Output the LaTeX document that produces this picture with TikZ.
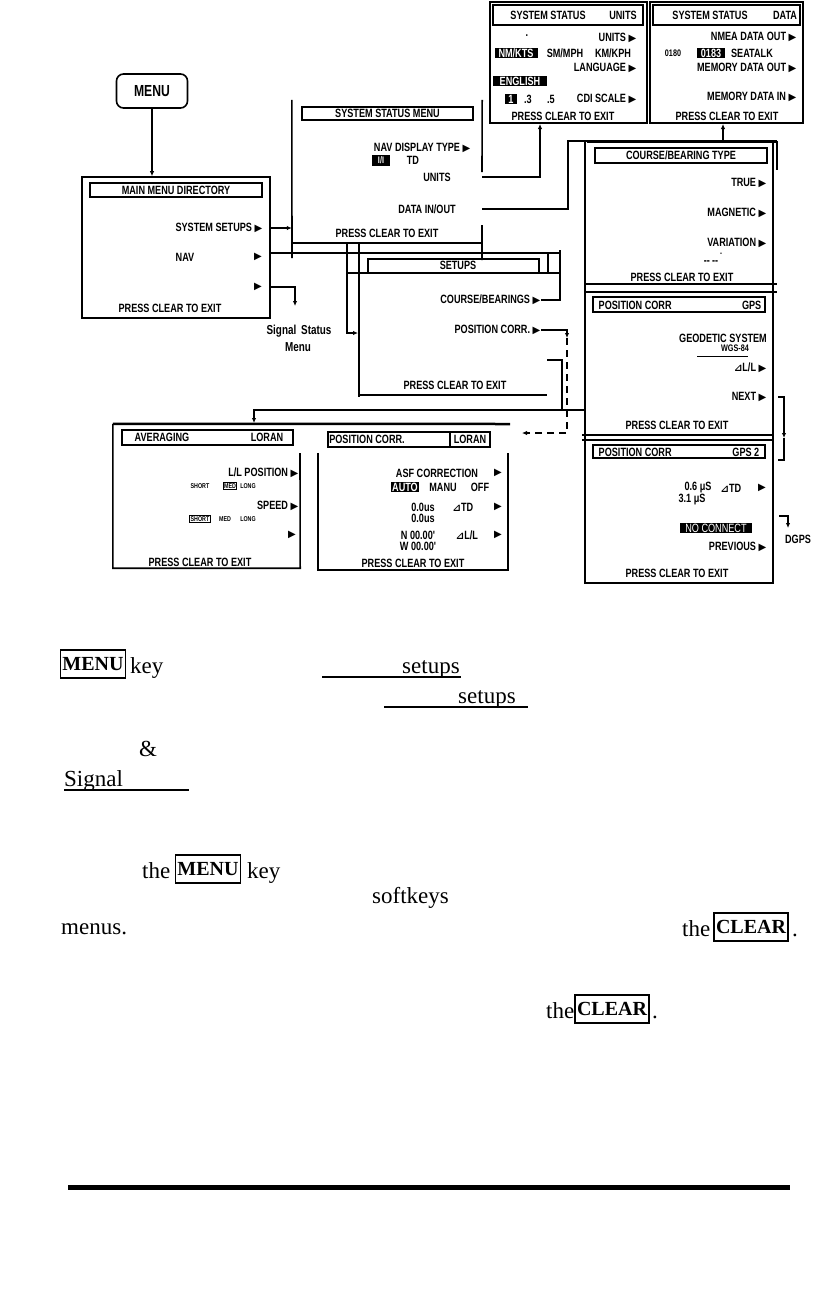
\documentclass[tikz,border=0pt]{standalone}
\usepackage{fontspec}
\setmainfont{Liberation Serif}
\newfontfamily\lcdfont{Liberation Sans}[FakeStretch=0.76]
\newfontfamily\symfont{DejaVu Sans}
\usetikzlibrary{positioning, arrows.meta, fit}
\newcommand{\tri}{{\symfont\fontsize{10}{10}\selectfont ▶}}
\newcommand{\dlt}{{\symfont\fontsize{10}{10}\selectfont ⊿}}

\begin{document}
\begin{tikzpicture}[x=1pt, y=-1pt,
  >={Latex[length=5pt, width=4.5pt]},
  scr/.style={draw, line width=1.6pt, inner sep=0pt},
  hd/.style={draw, line width=1.2pt, inner sep=0pt},
  lcd/.style={font=\lcdfont\bfseries\fontsize{12}{13}\selectfont, inner sep=0.5pt},
  lcds/.style={font=\lcdfont\bfseries\fontsize{9.5}{10}\selectfont, inner sep=0.5pt},
  lcdxs/.style={font=\lcdfont\bfseries\fontsize{7}{8}\selectfont, inner sep=0.8pt},
  inv/.style={fill=black, text=white, inner sep=1pt},
  lnk/.style={line width=1.4pt},
  key/.style={draw, line width=1.4pt, inner sep=2pt, minimum height=28pt, font=\bfseries\fontsize{20}{24}\selectfont},
  body/.style={font=\fontsize{23}{27}\selectfont, inner sep=0pt}
]
  \useasboundingbox[fill=white] (0,0) rectangle (817,1307);

  % MENU key
  \node[draw, rounded corners=7pt, line width=1.6pt, minimum width=71pt, minimum height=34pt,
        font=\lcdfont\bfseries\fontsize{16}{17}\selectfont] (menukey) at (152,91) {MENU};

  % Main menu directory
  \node[scr, fit={(82,177) (270,318)}] (mainmenu) {};
  \node[hd, fit={(90,183) (262,197)}] (mmhead) {};
  \node[lcd] at (mmhead) {MAIN MENU DIRECTORY};
  \node[lcd, anchor=east] (setsys) at (263,228) {SYSTEM SETUPS \tri};
  \node[lcd] (nav) at (185,257) {NAV};
  \node[lcd] (navtri) at (258,257) {\tri};
  \node[lcd] (sigtri) at (258,287) {\tri};
  \node[lcd] at (170,308) {PRESS CLEAR TO EXIT};
  \draw[lnk, ->] (menukey.south) -- (menukey.south |- mainmenu.north);

  % System status menu
  \node[fit={(292,100) (482,243)}, inner sep=0pt] (ssmenu) {};
  \draw[line width=1.6pt] (ssmenu.north west) -- (292,258);
  \draw[line width=1.6pt] (ssmenu.south west) -- (ssmenu.south east);
  \draw[line width=1.6pt] (ssmenu.north east) -- (482,172) (482,225) -- (482,260);
  \node[hd, fit={(302,107) (473,120)}] (sshead) {};
  \node[lcd] at (sshead) {SYSTEM STATUS MENU};
  \node[lcd, anchor=east] (navdisp) at (471,148) {NAV DISPLAY TYPE \tri};
  \node[lcds, inv, minimum width=18pt, minimum height=11pt] at (381,160) {I/I};
  \node[lcd] at (413,160) {TD};
  \node[lcd] (units) at (437,177) {UNITS};
  \node[lcd] (datainout) at (427,209) {DATA IN/OUT};
  \node[lcd] at (387,233) {PRESS CLEAR TO EXIT};
  \draw[lnk, ->] (mainmenu.east |- setsys) -- (ssmenu.west |- setsys);

  % System status: units
  \node[scr, fit={(490,2) (647,123)}] (ssunits) {};
  \node[hd, fit={(493,5) (643,25)}] (unhead) {};
  \node[lcd] at (548,15) {SYSTEM STATUS};
  \node[lcd] at (623,15) {UNITS};
  \node[lcd] at (527,36) {.};
  \node[lcd, anchor=east] at (637,38) {UNITS \tri};
  \node[lcd, inv, minimum width=43pt] at (516,53) {NM/KTS};
  \node[lcd] at (565,53) {SM/MPH};
  \node[lcd] at (613,53) {KM/KPH};
  \node[lcd, anchor=east] at (637,68) {LANGUAGE \tri};
  \node[lcd, inv, minimum width=54pt] at (520,81) {ENGLISH};
  \node[lcd, inv, minimum width=12pt] at (511,99) {1};
  \node[lcd] at (528,99) {.3};
  \node[lcd] at (551,99) {.5};
  \node[lcd, anchor=east] at (637,99) {CDI SCALE \tri};
  \node[lcd] at (563,116) {PRESS CLEAR TO EXIT};

  % System status: data
  \node[scr, fit={(650,2) (803,123)}] (ssdata) {};
  \node[hd, fit={(653,5) (800,25)}] (dahead) {};
  \node[lcd] at (710,15) {SYSTEM STATUS};
  \node[lcd] at (785,15) {DATA};
  \node[lcd, anchor=east] at (797,37) {NMEA DATA OUT \tri};
  \node[lcds] at (673,53) {0180};
  \node[lcd, inv, minimum width=28pt] at (711,53) {0183};
  \node[lcd] at (752,53) {SEATALK};
  \node[lcd, anchor=east] at (797,68) {MEMORY DATA OUT \tri};
  \node[lcd, anchor=east] at (797,97) {MEMORY DATA IN \tri};
  \node[lcd] at (727,116) {PRESS CLEAR TO EXIT};

  % units and data in/out links
  \coordinate (unitsin) at (540,124);
  \coordinate (databend) at (568,141);
  \coordinate (datain) at (723,124);
  \draw[lnk, ->] (ssmenu.east |- units) -| (unitsin);
  \draw[lnk, ->] (ssmenu.east |- datainout) -| (databend) -| (datain);

  % Right column: course/bearing and GPS position correction
  \node[fit={(585,141) (773,583)}, inner sep=0pt] (rcol) {};
  \draw[line width=1.6pt] (rcol.north west) -- (rcol.south west) -- (rcol.south east) -- (rcol.north east);
  \draw[line width=3pt] (587,141) -- (777,141);
  \draw[line width=1.6pt] (777,141) -- (777,170);
  \draw[line width=1.6pt] (585,284) -- (777,284) (585,292) -- (777,292);
  \draw[line width=1.6pt] (582,435) -- (773,435) (582,440) -- (773,440);
  \node[hd, fit={(595,148) (767,163)}] (cbhead) {};
  \node[lcd] at (cbhead) {COURSE/BEARING TYPE};
  \node[lcd, anchor=east] at (767,183) {TRUE \tri};
  \node[lcd, anchor=east] at (767,213) {MAGNETIC \tri};
  \node[lcd, anchor=east] at (767,243) {VARIATION \tri};
  \node[lcd] at (711,263) {--\,--};
  \node[lcds] at (721,254) {.};
  \node[lcd] at (682,277) {PRESS CLEAR TO EXIT};

  \node[hd, fit={(593,297) (765,312)}] (gpshead) {};
  \node[lcd, anchor=west] at (598,305) {POSITION CORR};
  \node[lcd, anchor=east] at (762,305) {GPS};
  \node[lcd] at (723,338) {GEODETIC SYSTEM};
  \node[lcds] (wgs) at (735,348) {WGS-84};
  \draw[line width=1pt] (697,356) -- (748,356);
  \node[lcd, anchor=east] at (767,368) {\dlt L/L \tri};
  \node[lcd, anchor=east] (next) at (767,397) {NEXT \tri};
  \node[lcd] at (677,425) {PRESS CLEAR TO EXIT};

  \node[hd, fit={(593,445) (765,458)}] (gps2head) {};
  \node[lcd, anchor=west] at (598,452) {POSITION CORR};
  \node[lcd, anchor=east] at (760,452) {GPS 2};
  \node[lcd] at (698,488) {0.6 μS};
  \node[lcd] at (731,488) {\dlt TD};
  \node[lcd] at (762,488) {\tri};
  \node[lcd] at (692,500) {3.1 μS};
  \node[lcd, inv, font=\lcdfont\fontsize{12}{13}\selectfont, minimum width=72pt] at (716,528) {NO CONNECT};
  \node[lcd, anchor=east] (prev) at (767,547) {PREVIOUS \tri};
  \node[lcd] at (677,573) {PRESS CLEAR TO EXIT};

  % NEXT / PREVIOUS links
  \coordinate (nexta) at (778,397);
  \coordinate (nextb) at (784,438);
  \coordinate (nextc) at (778,460);
  \draw[lnk, ->] (nexta) -| (nextb);
  \draw[lnk] (nextb) |- (nextc);
  \coordinate (dgpsa) at (779,516);
  \coordinate (dgpsb) at (788,528);
  \draw[lnk, ->] (dgpsa) -| (dgpsb);
  \node[lcd] (dgps) at (798,539) {DGPS};

  % Signal status
  \coordinate (sigin) at (295,306);
  \draw[lnk, ->] (mainmenu.east |- sigtri) -| (sigin);
  \node[lcd, font=\lcdfont\bfseries\fontsize{13}{14}\selectfont] (sigstat) at (299,331) {Signal\, Status};
  \node[lcd, font=\lcdfont\bfseries\fontsize{13}{14}\selectfont] at (298,347) {Menu};
  \coordinate (sigloop) at (347,243);
  \coordinate (sigend) at (358,333);
  \draw[lnk, ->] (sigloop) |- (sigend);

  % Setups
  \node[fit={(359,253) (547,395)}, inner sep=0pt] (setups) {};
  \draw[line width=1.6pt] (359,243) -- (359,397);
  \draw[line width=1.6pt] (setups.south west) -- (setups.south east);
  \coordinate (navout) at (270,253);
  \draw[lnk] (navout) -- (560,253);
  \draw[lnk] (548,253) -- (548,273) (347,273) -- (368,273) (539,273) -- (560,273);
  \node[hd, fit={(368,259) (539,273)}] (suhead) {};
  \node[lcd] at (458,265) {SETUPS};
  \node[lcd, anchor=east] (cbear) at (541,300) {COURSE/BEARINGS \tri};
  \node[lcd, anchor=east] (pcorr) at (541,330) {POSITION CORR. \tri};
  \node[lcd] at (455,385) {PRESS CLEAR TO EXIT};
  \coordinate (cbtop) at (560,250);
  \draw[lnk] (cbear.east) -| (cbtop);
  \coordinate (pcdash) at (567,338);
  \coordinate (pcloran) at (522,433);
  \draw[lnk, ->] (pcorr.east) -| (pcdash);
  \draw[lnk, dashed, dash pattern=on 7pt off 5pt, ->] (pcdash) |- (pcloran);
  \coordinate (hooka) at (547,360);
  \coordinate (hookb) at (562,410);
  \draw[lnk] (hooka) -| (hookb);
  \coordinate (navline) at (585,410);
  \coordinate (avgin) at (254,423);
  \draw[lnk, ->] (navline) -| (avgin);

  % Averaging
  \node[fit={(113,424) (300,568)}, inner sep=0pt] (avg) {};
  \draw[line width=2.5pt] (avg.north west) -- (510,424);
  \draw[line width=1.6pt] (avg.north west) -- (avg.south west) -- (avg.south east) -- (300,453);
  \node[hd, fit={(122,430) (293,445)}] (avhead) {};
  \node[lcd] at (162,437) {AVERAGING};
  \node[lcd] at (267,437) {LORAN};
  \node[lcd, anchor=east] at (299,473) {L/L POSITION \tri};
  \node[lcdxs] at (200,486) {SHORT};
  \node[lcdxs, draw, line width=0.8pt] at (230,486) {MED};
  \node[lcdxs] at (248,486) {LONG};
  \node[lcd, anchor=east] at (299,506) {SPEED \tri};
  \node[lcdxs, draw, line width=0.8pt] at (200,519) {SHORT};
  \node[lcdxs] at (225,519) {MED};
  \node[lcdxs] at (248,519) {LONG};
  \node[lcd] at (292,535) {\tri};
  \node[lcd] at (200,562) {PRESS CLEAR TO EXIT};

  % Position corr. loran
  \node[fit={(318,453) (508,570)}, inner sep=0pt] (loran) {};
  \draw[line width=1.6pt] (loran.north west) -- (loran.south west) -- (loran.south east) -- (loran.north east);
  \node[hd, fit={(328,432) (490,447)}] (lohead) {};
  \draw[line width=1.2pt] (450,432) -- (450,447);
  \node[lcd] at (367,439) {POSITION CORR.};
  \node[lcd] at (470,439) {LORAN};
  \node[lcd] at (437,473) {ASF CORRECTION};
  \node[lcd] at (498,473) {\tri};
  \node[lcd, inv] at (405,487) {AUTO};
  \node[lcd] at (443,487) {MANU};
  \node[lcd] at (480,487) {OFF};
  \node[lcd] at (423,507) {0.0us};
  \node[lcd] at (463,507) {\dlt TD};
  \node[lcd] at (498,507) {\tri};
  \node[lcd] at (423,518) {0.0us};
  \node[lcd] at (418,535) {N 00.00'};
  \node[lcd] at (467,535) {\dlt L/L};
  \node[lcd] at (498,535) {\tri};
  \node[lcd] at (418,546) {W 00.00'};
  \node[lcd] at (413,563) {PRESS CLEAR TO EXIT};

  % Text below the chart
  \node[key] (menua) at (93,664) {MENU};
  \node[body, anchor=base west] at (130,673) {key};
  \node[body, anchor=base west] (setupsa) at (402,673) {setups};
  \draw[line width=1.5pt] (322,677) -- (461,677);
  \node[body, anchor=base west] (setupsb) at (458,703) {setups};
  \draw[line width=1.5pt] (384,707) -- (528,707);
  \node[body, anchor=base] at (148,756) {\&};
  \node[body, anchor=base west] (signal) at (64,786) {Signal};
  \draw[line width=1.5pt] (64,790) -- (189,790);
  \node[body, anchor=base west] at (142,878) {the};
  \node[key] (menub) at (208,869) {MENU};
  \node[body, anchor=base west] at (247,878) {key};
  \node[body, anchor=base west] at (372,903) {softkeys};
  \node[body, anchor=base west] at (61,934) {menus.};
  \node[body, anchor=base west] at (682,936) {the};
  \node[key] (cleara) at (751,927) {CLEAR};
  \node[body, anchor=base west] at (792,936) {.};
  \node[body, anchor=base west] at (546,1018) {the};
  \node[key] (clearb) at (612,1009) {CLEAR};
  \node[body, anchor=base west] at (652,1018) {.};

  % rule
  \fill (68,1185) rectangle (790,1190);
\end{tikzpicture}
\end{document}
